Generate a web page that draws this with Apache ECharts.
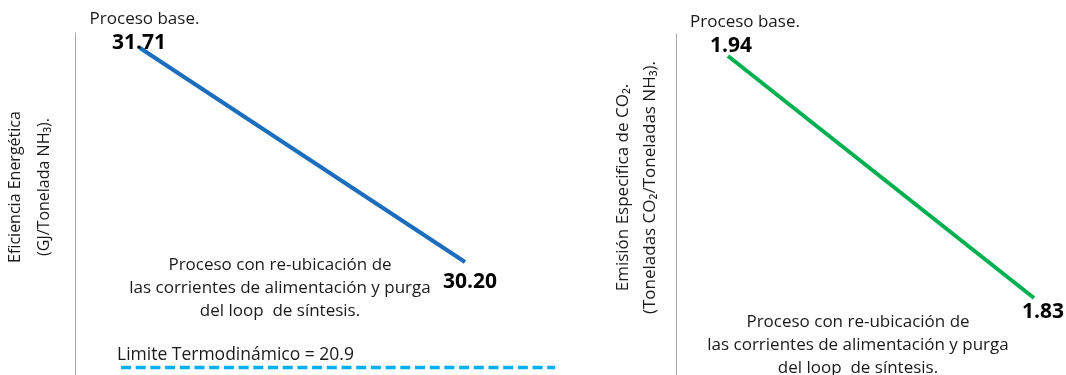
<!DOCTYPE html>
<html>
<head>
<meta charset="utf-8">
<script src="https://cdn.jsdelivr.net/npm/echarts@6/dist/echarts.min.js"></script>
<style>
  html, body { margin: 0; padding: 0; background: #fff; }
  #chart { width: 1066px; height: 375px; }
</style>
</head>
<body>
<div id="chart"></div>
<script>
// Process cases compared in both panels
const categories = [
  'Proceso base.',
  'Proceso con re-ubicación de\nlas corrientes de alimentación y purga\ndel loop  de síntesis.'
];
// Energy efficiency, GJ per tonne of NH3
const energia = [31.71, 30.20];
// Specific CO2 emission, tonnes CO2 per tonne of NH3
const emision = [1.94, 1.83];
// Thermodynamic limit reference
const limite = [20.9, 20.9];
const limiteTexto = 'Limite Termodinámico = 20.9';
// Axis titles
const ejeEnergia = 'Eficiencia Energética\n(GJ/Tonelada NH₃).';
const ejeEmision = 'Emisión Especifica de CO₂.\n(Toneladas CO₂/Toneladas NH₃).';

const FONT = 'Open Sans';
const chart = echarts.init(document.getElementById('chart'), null, { renderer: 'canvas' });

const hiddenX = (gridIndex) => ({
  type: 'category', gridIndex, data: categories, boundaryGap: false,
  show: false
});

const valueAxis = (gridIndex, min, max, extra) => Object.assign({
  type: 'value', gridIndex, min, max,
  axisLabel: { show: false }, axisTick: { show: false }, splitLine: { show: false },
  axisLine: { show: false }
}, extra || {});

// Axis titles sit a little above the axis middle (left padding lifts rotated text)
const nameStyle = (size, lh) => ({
  fontFamily: FONT, fontSize: size, color: '#1a1a1a', lineHeight: lh, align: 'center',
  padding: [0, 0, 0, 34]
});

const richTop = (pad) => ({
  t: { fontFamily: FONT, fontSize: 17, color: '#1a1a1a', lineHeight: 23, padding: [0, 0, 0, pad] },
  v: { fontFamily: FONT, fontSize: 21, fontWeight: 'bold', color: '#000', lineHeight: 24 }
});

const valueLabel = (offset) => ({
  show: true, position: 'bottom', distance: 0, offset,
  fontFamily: FONT, fontSize: 21, fontWeight: 'bold', color: '#000', lineHeight: 24,
  formatter: (p) => p.value.toFixed(2)
});

const option = {
  animation: false,
  backgroundColor: '#ffffff',
  grid: [
    { left: 140, top: 33, width: 325, height: 342 },
    { left: 121, top: 360, width: 434, height: 15 },
    { left: 728, top: 34, width: 306, height: 341 }
  ],
  xAxis: [hiddenX(0), hiddenX(1), hiddenX(2)],
  yAxis: [
    valueAxis(0, 29.4027, 31.8158, {
      offset: 65,
      axisLine: { show: true, lineStyle: { color: '#A6A6A6', width: 1 } },
      name: ejeEnergia, nameLocation: 'middle', nameRotate: 90, nameGap: 16,
      nameTextStyle: nameStyle(16, 29)
    }),
    valueAxis(1, 20.8, 21.0),
    valueAxis(2, 1.795, 1.95, {
      offset: 52,
      axisLine: { show: true, lineStyle: { color: '#A6A6A6', width: 1 } },
      name: ejeEmision, nameLocation: 'middle', nameRotate: 90, nameGap: 12,
      nameTextStyle: nameStyle(17, 27)
    })
  ],
  series: [
    {
      type: 'line', xAxisIndex: 0, yAxisIndex: 0,
      symbol: 'circle', symbolSize: 0,
      lineStyle: { color: '#1C6EBD', width: 4 },
      itemStyle: { color: '#1C6EBD' },
      data: [
        { value: energia[0], label: {
          show: true, position: 'top', distance: 0, offset: [-1, 7],
          formatter: (p) => '{t|' + categories[0] + '}\n{v|' + p.value.toFixed(2) + '}',
          rich: richTop(11)
        } },
        { value: energia[1], label: valueLabel([5, 8]) }
      ]
    },
    {
      type: 'line', xAxisIndex: 1, yAxisIndex: 1,
      symbol: 'circle', symbolSize: 0,
      lineStyle: { color: '#00B0F0', width: 3.5, type: [10, 4.7] },
      itemStyle: { color: '#00B0F0' },
      data: [
        { value: limite[0], label: {
          show: true, position: 'top', distance: 3, offset: [-4, 0], align: 'left',
          fontFamily: FONT, fontSize: 17.5, color: '#1a1a1a',
          formatter: () => limiteTexto
        } },
        { value: limite[1] }
      ]
    },
    {
      type: 'line', xAxisIndex: 2, yAxisIndex: 2,
      symbol: 'circle', symbolSize: 0,
      lineStyle: { color: '#00B050', width: 4 },
      itemStyle: { color: '#00B050' },
      data: [
        { value: emision[0], label: {
          show: true, position: 'top', distance: 0, offset: [3, 2],
          formatter: (p) => '{t|' + categories[0] + '}\n{v|' + p.value.toFixed(2) + '}',
          rich: richTop(28)
        } },
        { value: emision[1], label: valueLabel([9, 2]) }
      ]
    }
  ],
  graphic: [
    {
      type: 'text', x: 280, y: 288,
      style: { text: categories[1], align: 'center', verticalAlign: 'middle',
        fontFamily: FONT, fontSize: 17, lineHeight: 23, fill: '#1a1a1a' }
    },
    {
      type: 'text', x: 858, y: 345,
      style: { text: categories[1], align: 'center', verticalAlign: 'middle',
        fontFamily: FONT, fontSize: 17, lineHeight: 23, fill: '#1a1a1a' }
    }
  ]
};

chart.setOption(option);
</script>
</body>
</html>
